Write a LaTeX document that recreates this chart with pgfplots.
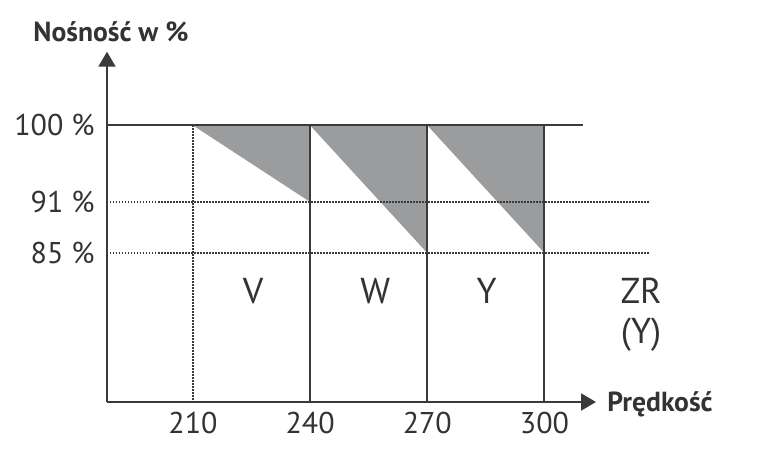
\documentclass[border=0pt]{standalone}
\usepackage{fontspec}
\setmainfont{PT Sans}
\usepackage{pgfplots}
\pgfplotsset{compat=1.18}
\usetikzlibrary{arrows.meta}
\definecolor{ink}{HTML}{3A3A3A}
\definecolor{txt}{HTML}{333333}
\definecolor{shade}{HTML}{9B9C9E}
\begin{document}
\begin{tikzpicture}
\path[use as bounding box] (-53.5pt,-32pt) rectangle (331pt,201pt);
\begin{axis}[
    scale only axis,
    width=244.5pt, height=175.15pt,
    xmin=188, xmax=313.2, ymin=67.5, ymax=108.65,
    clip=false,
    axis lines=left,
    axis line style={line width=1pt, draw=ink, -{Triangle[length=7.5pt,width=8.5pt]}},
    xtick={210,240,270,300},
    ytick={85,91,100},
    yticklabels={85 \%,91 \%,100 \%},
    major tick length=0pt,
    /pgf/number format/assume math mode=true,
    /pgf/number format/1000 sep={},
    tick label style={font=\fontsize{15}{17}\selectfont, text=txt, inner sep=0pt},
    xticklabel style={anchor=north, yshift=-5pt},
    yticklabel style={anchor=east, xshift=-6pt},
    xlabel={Prędkość},
    xlabel style={font=\fontsize{13.8}{15}\selectfont\bfseries, text=txt, inner sep=0pt,
        at={(axis description cs:1,0)}, anchor=base west, xshift=5.5pt, yshift=-4.5pt},
    ylabel={Nośność w \%},
    ylabel style={font=\fontsize{13.8}{15}\selectfont\bfseries, text=txt, inner sep=0pt, rotate=-90,
        at={(axis description cs:0,1)}, anchor=base, xshift=2pt, yshift=5.3pt},
]
% grey areas
\addplot[fill=shade, draw=none] coordinates {(210,100) (240,100) (240,91)} -- cycle;
\addplot[fill=shade, draw=none] coordinates {(240,100) (270,100) (270,85)} -- cycle;
\addplot[fill=shade, draw=none] coordinates {(270,100) (300,100) (300,85)} -- cycle;
% 100 % line
\addplot[ink, line width=1pt] coordinates {(188,100) (309.8,100)};
% dotted levels
\addplot[ink, line width=0.7pt, dash pattern=on 0.75pt off 0.75pt] coordinates {(188,91) (326.9,91)};
\addplot[ink, line width=0.7pt, dash pattern=on 0.75pt off 0.75pt] coordinates {(188,85) (326.9,85)};
\addplot[ink, line width=0.7pt, dash pattern=on 0.75pt off 0.75pt] coordinates {(210,100) (210,67.5)};
% boundaries
\addplot[ink, line width=1pt] coordinates {(240,100) (240,67.5)};
\addplot[ink, line width=1pt] coordinates {(270,100) (270,67.5)};
\addplot[ink, line width=1pt] coordinates {(300,100) (300,67.5)};
% classes
\node[anchor=base, text=txt, font=\fontsize{18}{20}\selectfont] at (axis cs:225.4,79.13) {V};
\node[anchor=base, text=txt, font=\fontsize{18}{20}\selectfont] at (axis cs:256.7,79.13) {W};
\node[anchor=base, text=txt, font=\fontsize{18}{20}\selectfont] at (axis cs:285.2,79.13) {Y};
\node[anchor=base, text=txt, font=\fontsize{18}{20}\selectfont] at (axis cs:324.75,79.13) {ZR};
\node[anchor=base, text=txt, font=\fontsize{18}{20}\selectfont] at (axis cs:324.75,74.4) {(Y)};
\end{axis}
\end{tikzpicture}
\end{document}
